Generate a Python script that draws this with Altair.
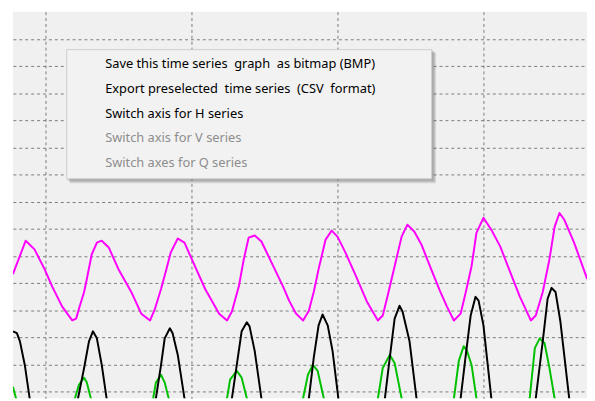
import altair as alt
import pandas as pd

# ---- time series (time in hours, level in grid units) ----
h_t = [-10.7, -6.5, -3.6, -0.3, 2.3, 5.5, 8.8, 10.1, 11.0, 12.7, 13.6, 15.2, 16.9, 18.5, 20.8, 24.0,
       28.2, 31.5, 34.4, 36.0, 38.0, 39.6, 41.2, 43.5, 45.7, 47.7, 52.5, 57.1, 59.7, 61.3, 63.6, 65.2,
       66.8, 68.8, 71.0, 74.3, 78.2, 80.1, 82.4, 84.7, 86.6, 88.2, 89.8, 92.1, 94.1, 96.0, 98.6, 101.8,
       105.7, 109.3, 110.9, 112.5, 114.8, 117.1, 119.0, 121.3, 123.6, 126.8, 129.7, 132.0, 134.3, 136.5,
       138.2, 140.1, 141.7, 144.0, 146.6, 149.5, 152.8, 156.0, 159.6, 161.2, 163.5, 165.7, 167.4, 169.0,
       170.6, 173.8, 178.1]
h_v = [4.33, 5.56, 5.24, 4.51, 3.85, 3.13, 2.62, 2.69, 3.05, 3.67, 4.15, 5.05, 5.49, 5.56, 5.31, 4.51,
       3.67, 2.87, 2.62, 3.05, 3.78, 4.44, 5.13, 5.64, 5.49, 4.98, 3.78, 2.87, 2.62, 2.95, 3.89, 4.87,
       5.67, 5.75, 5.53, 4.76, 3.85, 3.35, 2.87, 2.62, 2.98, 3.67, 4.51, 5.60, 5.93, 5.71, 5.13, 4.33,
       3.31, 2.62, 2.80, 3.53, 4.62, 5.71, 6.15, 5.89, 5.42, 4.51, 3.71, 3.13, 2.62, 2.87,
       3.67, 4.62, 5.85, 6.40, 5.96, 5.35, 4.40, 3.49, 2.62, 2.80, 3.67, 4.87, 6.07, 6.58,
       6.33, 5.49, 4.15]

v_t = [-10.7, -9.4, -8.4, -6.8, -5.2, 2.9, 10.7, 12.7, 14.3, 15.6, 16.9, 18.5, 20.1, 28.2, 36.3, 38.0,
       39.2, 40.9, 41.8, 43.5, 45.7, 53.5, 61.3, 62.9, 64.5, 66.2, 67.1, 68.8, 71.0, 78.8, 86.6, 88.2,
       89.8, 91.1, 92.8, 94.4, 96.3, 103.8, 111.6, 113.2, 114.8, 116.4, 117.4, 119.7, 122.0, 129.4,
       136.5, 138.2, 139.8, 141.4, 142.4, 144.0, 146.6, 153.7, 161.2, 163.5, 165.1, 166.4, 167.7, 169.3,
       172.2, 178.1]
v_v = [2.22, 2.15, 1.85, 0.98, -0.25, -3.13, -0.25, 0.87, 1.85, 2.22, 1.96, 0.98, -0.25, -3.13, -0.25, 0.98,
       1.96, 2.33, 2.15, 1.35, -0.25, -3.13, -0.25, 0.98, 2.22, 2.55, 2.40, 1.49, -0.25, -3.13, -0.25, 1.24,
       2.44, 2.84, 2.44, 1.49, -0.25, -3.13, -0.25, 1.24, 2.69, 3.16, 2.95, 1.85, -0.25, -3.13,
       -0.25, 1.35, 2.80, 3.49, 3.35, 2.44, -0.25, -3.13, -0.25, 1.85, 3.42, 3.82, 3.67, 2.58,
       -0.25, -3.13]

q_t = [-10.7, -9.7, 0.0, 9.7, 11.0, 12.7, 13.6, 14.9, 25.0, 35.4, 36.3, 38.0, 39.2, 40.5, 50.0, 59.7,
       60.7, 62.9, 64.5, 66.2, 75.2, 84.7, 86.3, 87.9, 89.5, 91.5, 100.2, 109.3, 110.9, 113.2, 114.8,
       117.1, 125.5, 134.3, 135.9, 137.5, 138.5, 140.1, 141.7, 150.5, 159.2, 160.9, 162.5, 164.1, 165.7,
       167.4, 178.1]
q_v = [0.18, -0.25, -2.04, -0.25, 0.25, 0.51, 0.33, -0.25, -2.04, -0.25, 0.33, 0.62, 0.33, -0.25, -2.04, -0.25,
       0.44, 0.76, 0.51, -0.25, -2.04, -0.25, 0.62, 0.98, 0.76, -0.25, -2.04, -0.25, 0.87, 1.35, 1.05,
       -0.25, -2.04, -0.25, 1.13, 1.67, 1.53, 0.98, -0.25, -2.04, -0.25, 1.60, 1.96, 1.78, 0.87,
       -0.25, -2.04]

x_grid = [0, 48, 96, 144]
y_grid = list(range(0, 14))

menu_items = [
    "Save this time series\u00a0 graph\u00a0 as bitmap (BMP)",
    "Export preselected\u00a0 time series\u00a0 (CSV\u00a0 format)",
    "Switch axis for H series",
    "Switch axis for V series",
    "Switch axes for Q series",
]
menu_enabled = [True, True, True, False, False]

W, H = 582, 392

x_enc = alt.X("t:Q", scale=alt.Scale(domain=[-10.7, 178.05], nice=False, zero=False),
              axis=alt.Axis(values=x_grid, grid=True, labels=False, ticks=False, domain=False,
                            title=None, gridDash=[3, 3], gridColor="#7a7a7a", gridWidth=1))
y_enc = alt.Y("v:Q", scale=alt.Scale(domain=[-0.25, 14.0], nice=False, zero=False),
              axis=alt.Axis(values=y_grid, grid=True, labels=False, ticks=False, domain=False,
                            title=None, gridDash=[3, 3], gridColor="#7a7a7a", gridWidth=1))


def series_layer(ts, vs, color):
    df = pd.DataFrame({"t": ts, "v": vs})
    return alt.Chart(df).mark_line(color=color, strokeWidth=2, clip=True,
                                   strokeJoin="round").encode(x=x_enc, y=y_enc, order="t:Q")


layers = [
    series_layer(q_t, q_v, "#00c000"),
    series_layer(v_t, v_v, "#000000"),
    series_layer(h_t, h_v, "#ff00ff"),
]

one = pd.DataFrame({"k": [0]})
# menu drop shadow (soft, right and bottom)
for k in (4, 3, 2, 1):
    layers.append(alt.Chart(one).mark_rect(fill="#606060", opacity=0.16).encode(
        x=alt.value(54 + k), x2=alt.value(425 + k), y=alt.value(38 + k), y2=alt.value(170 + k)))
# menu body
layers.append(alt.Chart(one).mark_rect(fill="#f2f2f2", stroke="#cdcdcd", strokeWidth=1).encode(
    x=alt.value(54.5), x2=alt.value(424.5), y=alt.value(38.5), y2=alt.value(169.5)))

for i, (label, enabled) in enumerate(zip(menu_items, menu_enabled)):
    dfi = pd.DataFrame({"label": [label]})
    layers.append(alt.Chart(dfi).mark_text(
        align="left", baseline="middle", font="Noto Sans", fontSize=13,
        color="#000000" if enabled else "#8d8d8d").encode(
        text="label:N", x=alt.value(93.5), y=alt.value(53.5 + 25 * i)))

chart = alt.layer(*layers).properties(
    width=W, height=H,
    padding={"left": 5, "top": 1, "right": 0, "bottom": 0},
    autosize=alt.AutoSizeParams(type="none"),
    background="#ffffff",
).configure_view(fill="#f0f0f0", stroke=None)

chart.save("out.html", embed_options={"renderer": "svg", "actions": False})
